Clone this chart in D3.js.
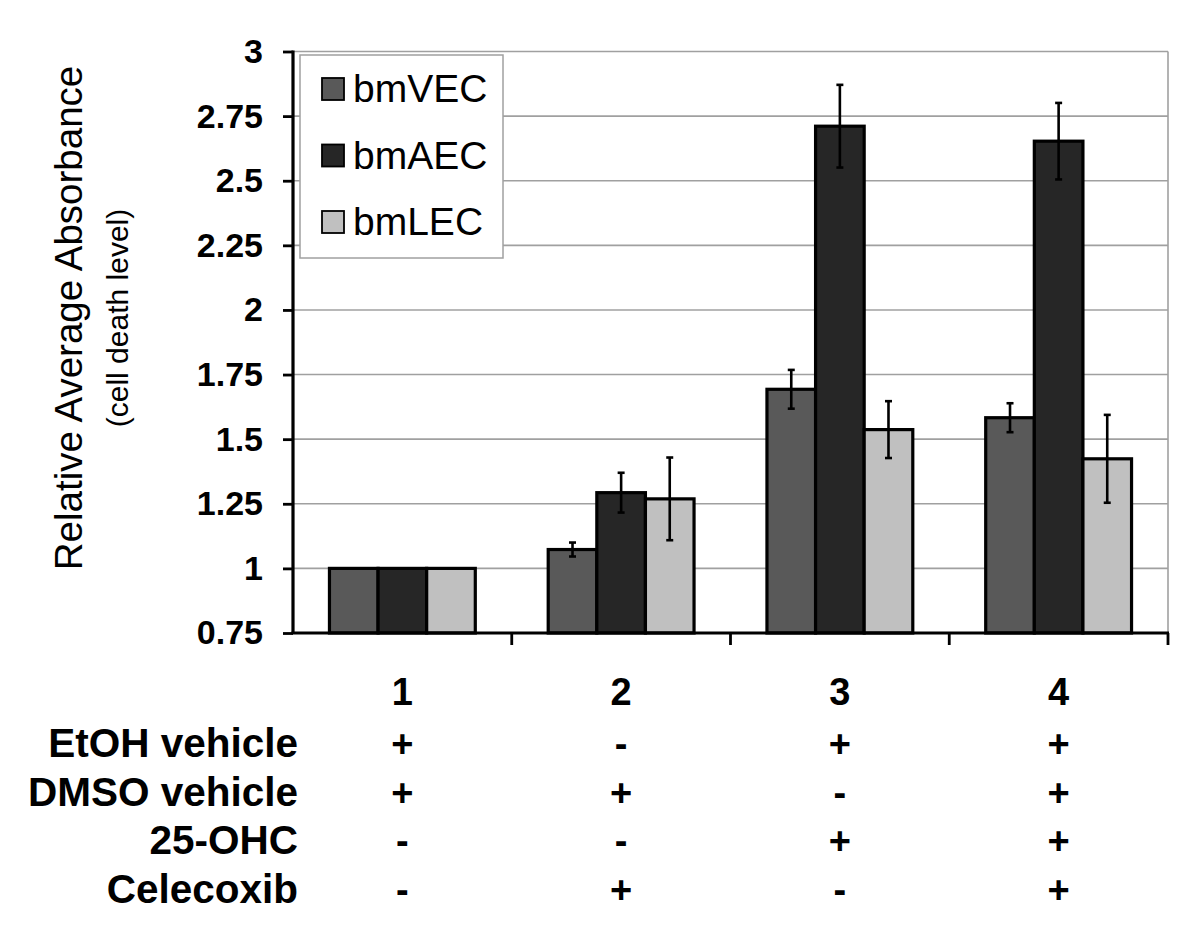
<!DOCTYPE html>
<html>
<head>
<meta charset="utf-8">
<script src="https://cdn.jsdelivr.net/npm/d3@7"></script>
<style>
  html, body { margin: 0; padding: 0; background: #fff; }
  svg { display: block; font-family: "Liberation Sans", Arial, sans-serif; }
</style>
</head>
<body>
<svg id="chart" width="1200" height="945"></svg>
<script>
// ---- data ----
const groups = ["1", "2", "3", "4"];
const seriesNames = ["bmVEC", "bmAEC", "bmLEC"];
const seriesColors = ["#595959", "#262626", "#c0c0c0"];
const bmVEC = [1.0, 1.073, 1.693, 1.583];
const bmAEC = [1.0, 1.293, 2.711, 2.653];
const bmLEC = [1.0, 1.269, 1.537, 1.424];
const errVEC = [0, 0.027, 0.075, 0.056];
const errAEC = [0, 0.077, 0.16, 0.148];
const errLEC = [0, 0.16, 0.11, 0.17];
const yTicks = [0.75, 1, 1.25, 1.5, 1.75, 2, 2.25, 2.5, 2.75, 3];
const rowLabels = ["EtOH vehicle", "DMSO vehicle", "25-OHC", "Celecoxib"];
const rowEtOH = ["+", "-", "+", "+"];
const rowDMSO = ["+", "+", "-", "+"];
const row25OHC = ["-", "-", "+", "+"];
const rowCelecoxib = ["-", "+", "-", "+"];
const yTitle = "Relative Average Absorbance";
const ySubtitle = "(cell death level)";

const seriesValues = [bmVEC, bmAEC, bmLEC];
const seriesErrors = [errVEC, errAEC, errLEC];
const rows = [rowEtOH, rowDMSO, row25OHC, rowCelecoxib];

// ---- layout ----
const svg = d3.select("#chart");
const pLeft = 293, pRight = 1168, pTop = 51.5, pBottom = 633;

const y = d3.scaleLinear().domain([0.75, 3]).range([pBottom, pTop]);
const x0 = d3.scaleBand().domain(groups).range([pLeft, pRight]).paddingInner(0).paddingOuter(0);
const x1 = d3.scaleBand().domain(seriesNames).range([0, x0.bandwidth()]).paddingInner(0).paddingOuter(0.75);

// gridlines
svg.append("g")
  .selectAll("line")
  .data(yTicks.filter(t => t > 0.75))
  .join("line")
  .attr("x1", pLeft).attr("x2", pRight)
  .attr("y1", d => y(d)).attr("y2", d => y(d))
  .attr("stroke", "#a0a0a0").attr("stroke-width", 1.6);

// plot border (right side)
svg.append("line")
  .attr("x1", pRight).attr("x2", pRight).attr("y1", pTop).attr("y2", pBottom)
  .attr("stroke", "#a0a0a0").attr("stroke-width", 1.6);

// bars
const flat = [];
groups.forEach((g, gi) => {
  seriesNames.forEach((s, si) => {
    flat.push({ g, s, si, v: seriesValues[si][gi], e: seriesErrors[si][gi] });
  });
});

svg.append("g")
  .selectAll("rect")
  .data(flat)
  .join("rect")
  .attr("x", d => x0(d.g) + x1(d.s))
  .attr("y", d => y(d.v))
  .attr("width", x1.bandwidth())
  .attr("height", d => y(0.75) - y(d.v))
  .attr("fill", d => seriesColors[d.si])
  .attr("stroke", "#000")
  .attr("stroke-width", 3.2);

// error bars
const eb = svg.append("g").attr("stroke", "#000").attr("stroke-width", 2.6);
flat.filter(d => d.e > 0).forEach(d => {
  const cx = x0(d.g) + x1(d.s) + x1.bandwidth() / 2;
  const y1 = y(d.v + d.e), y2 = y(d.v - d.e);
  eb.append("line").attr("x1", cx).attr("x2", cx).attr("y1", y1).attr("y2", y2);
  eb.append("line").attr("x1", cx - 3.5).attr("x2", cx + 3.5).attr("y1", y1).attr("y2", y1);
  eb.append("line").attr("x1", cx - 3.5).attr("x2", cx + 3.5).attr("y1", y2).attr("y2", y2);
});

// y axis
const yAxis = d3.axisLeft(y).tickValues(yTicks).tickSize(10).tickPadding(20).tickFormat(d => String(d));
const gy = svg.append("g").attr("transform", `translate(${pLeft},0)`).call(yAxis);
gy.select(".domain").attr("stroke", "#000").attr("stroke-width", 3.2).attr("d", `M0,${pTop - 1}V${pBottom}`);
gy.selectAll(".tick line").attr("stroke", "#000").attr("stroke-width", 2.8);
gy.selectAll(".tick text")
  .attr("fill", "#000")
  .style("font-size", "34px")
  .style("font-weight", "bold")
  .style("font-family", "'Liberation Sans', Arial, sans-serif");

// x axis
const xAxis = d3.axisBottom(x0).tickSize(0).tickFormat("");
const gx = svg.append("g").attr("transform", `translate(0,${pBottom})`).call(xAxis);
gx.select(".domain").attr("stroke", "#000").attr("stroke-width", 3.2).attr("d", `M${pLeft - 1.5},0H${pRight + 1}`);
gx.selectAll(".tick").remove();
gx.selectAll("line.bt")
  .data(groups.slice(1).map(g => x0(g)).concat([pRight]))
  .join("line")
  .attr("class", "bt")
  .attr("x1", d => d).attr("x2", d => d)
  .attr("y1", 0).attr("y2", 12)
  .attr("stroke", "#000").attr("stroke-width", 2.8);

// group number labels
svg.append("g")
  .selectAll("text")
  .data(groups)
  .join("text")
  .attr("x", d => x0(d) + x0.bandwidth() / 2)
  .attr("y", 705)
  .attr("text-anchor", "middle")
  .style("font-size", "38px")
  .style("font-weight", "bold")
  .text(d => d);

// treatment rows
const rowBase = [757, 805.5, 854, 902.5];
rowLabels.forEach((lab, ri) => {
  svg.append("text")
    .attr("x", 298)
    .attr("y", rowBase[ri])
    .attr("text-anchor", "end")
    .style("font-size", "40.5px")
    .style("font-weight", "bold")
    .text(lab);
  svg.append("g")
    .selectAll("text")
    .data(rows[ri].map((s, gi) => ({ s, g: groups[gi] })))
    .join("text")
    .attr("x", d => x0(d.g) + x0.bandwidth() / 2)
    .attr("y", rowBase[ri])
    .attr("text-anchor", "middle")
    .style("font-size", "38px")
    .style("font-weight", "bold")
    .text(d => d.s);
});

// y axis titles
svg.append("text")
  .attr("transform", `translate(82,318) rotate(-90)`)
  .attr("text-anchor", "middle")
  .style("font-size", "38.5px")
  .text(yTitle);
svg.append("text")
  .attr("transform", `translate(128,318) rotate(-90)`)
  .attr("text-anchor", "middle")
  .style("font-size", "30px")
  .text(ySubtitle);

// legend
const legend = svg.append("g");
legend.append("rect")
  .attr("x", 300).attr("y", 55).attr("width", 203).attr("height", 203)
  .attr("fill", "#fff").attr("stroke", "#a0a0a0").attr("stroke-width", 1.5);
const lg = legend.selectAll("g.item")
  .data(seriesNames)
  .join("g")
  .attr("class", "item")
  .attr("transform", (d, i) => `translate(322,${78 + i * 66.5})`);
lg.append("rect")
  .attr("width", 22).attr("height", 22)
  .attr("fill", (d, i) => seriesColors[i])
  .attr("stroke", "#000").attr("stroke-width", 1.8);
lg.append("text")
  .attr("x", 31).attr("y", 24)
  .style("font-size", "39px")
  .text(d => d);
</script>
</body>
</html>
